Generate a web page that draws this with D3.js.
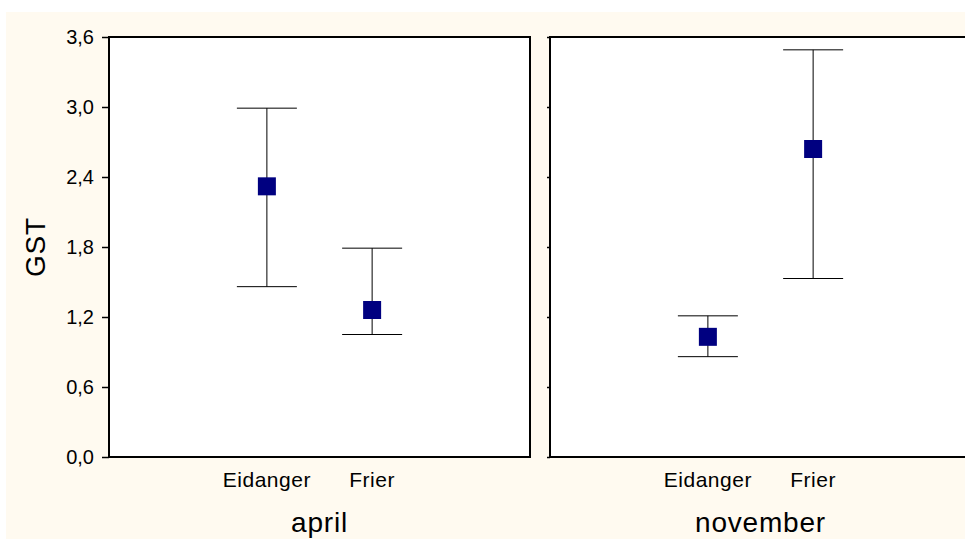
<!DOCTYPE html>
<html>
<head>
<meta charset="utf-8">
<script src="https://cdn.jsdelivr.net/npm/d3@7"></script>
<style>
  body { margin: 0; background: #ffffff; }
  svg { display: block; }
</style>
</head>
<body>
<div id="chart"></div>
<script>
// data
const panels = ["april", "november"];
const sites = ["Eidanger", "Frier"];
const means = [[2.32, 1.26], [1.03, 2.64]];
const upper = [[2.99, 1.79], [1.21, 3.49]];
const lower = [[1.46, 1.05], [0.86, 1.53]];
const yTicks = [0, 0.6, 1.2, 1.8, 2.4, 3.0, 3.6];

const W = 965, H = 539;
const panelLeft = [109, 550], panelW = 421;
const plotTop = 37, plotBottom = 457;
const font = "Arial, 'Liberation Sans', sans-serif";

const svg = d3.select("#chart").append("svg")
  .attr("width", W)
  .attr("height", H);

// cream background
svg.append("rect")
  .attr("x", 6).attr("y", 12)
  .attr("width", W - 6).attr("height", H - 12)
  .attr("fill", "#fffaf0");

const y = d3.scaleLinear().domain([0, 3.6]).range([plotBottom, plotTop]);
const fmt = d => d3.format(".1f")(d).replace(".", ",");

panels.forEach((p, i) => {
  const g = svg.append("g").attr("transform", `translate(${panelLeft[i]},0)`);

  g.append("rect")
    .attr("x", 0).attr("y", plotTop)
    .attr("width", panelW).attr("height", plotBottom - plotTop)
    .attr("fill", "#ffffff")
    .attr("stroke", "#000")
    .attr("stroke-width", 2);

  // y axis
  const ax = g.append("g")
    .call(d3.axisLeft(y).tickValues(yTicks).tickSize(i === 0 ? 7 : 3).tickSizeOuter(0)
      .tickPadding(8)
      .tickFormat(i === 0 ? fmt : ""))
    .attr("font-family", font)
    .attr("font-size", 20);
  ax.select(".domain").remove();
  ax.selectAll("line").attr("stroke", "#000").attr("stroke-width", 1.5);
  ax.selectAll("text").attr("fill", "#000");

  const x = d3.scalePoint().domain(sites).range([0, panelW]).padding(1.5);

  // x labels
  g.selectAll(".xl")
    .data(sites)
    .enter()
    .append("text")
    .attr("class", "xl")
    .attr("x", d => x(d))
    .attr("y", 487)
    .attr("text-anchor", "middle")
    .attr("font-family", font)
    .attr("font-size", 21)
    .attr("letter-spacing", 0.5)
    .text(d => d);

  // panel label
  g.append("text")
    .attr("x", panelW / 2)
    .attr("y", 532)
    .attr("text-anchor", "middle")
    .attr("font-family", font)
    .attr("font-size", 28)
    .attr("letter-spacing", 0.8)
    .text(p);

  // error bars
  const rows = sites.map((s, j) => ({ s, m: means[i][j], hi: upper[i][j], lo: lower[i][j] }));
  const cap = 30;
  rows.forEach(d => {
    const cx = x(d.s);
    g.append("line")
      .attr("x1", cx).attr("x2", cx)
      .attr("y1", y(d.hi)).attr("y2", y(d.lo))
      .attr("stroke", "#000").attr("stroke-width", 1);
    [d.hi, d.lo].forEach(v => {
      g.append("line")
        .attr("x1", cx - cap).attr("x2", cx + cap)
        .attr("y1", y(v)).attr("y2", y(v))
        .attr("stroke", "#000").attr("stroke-width", 1);
    });
    g.append("rect")
      .attr("x", cx - 9).attr("y", y(d.m) - 9)
      .attr("width", 18).attr("height", 18)
      .attr("fill", "#000080");
  });
});

// y axis title
svg.append("text")
  .attr("transform", `translate(45,${(plotTop + plotBottom) / 2}) rotate(-90)`)
  .attr("text-anchor", "middle")
  .attr("font-family", font)
  .attr("font-size", 28)
  .attr("letter-spacing", 0.8)
  .text("GST");
</script>
</body>
</html>
